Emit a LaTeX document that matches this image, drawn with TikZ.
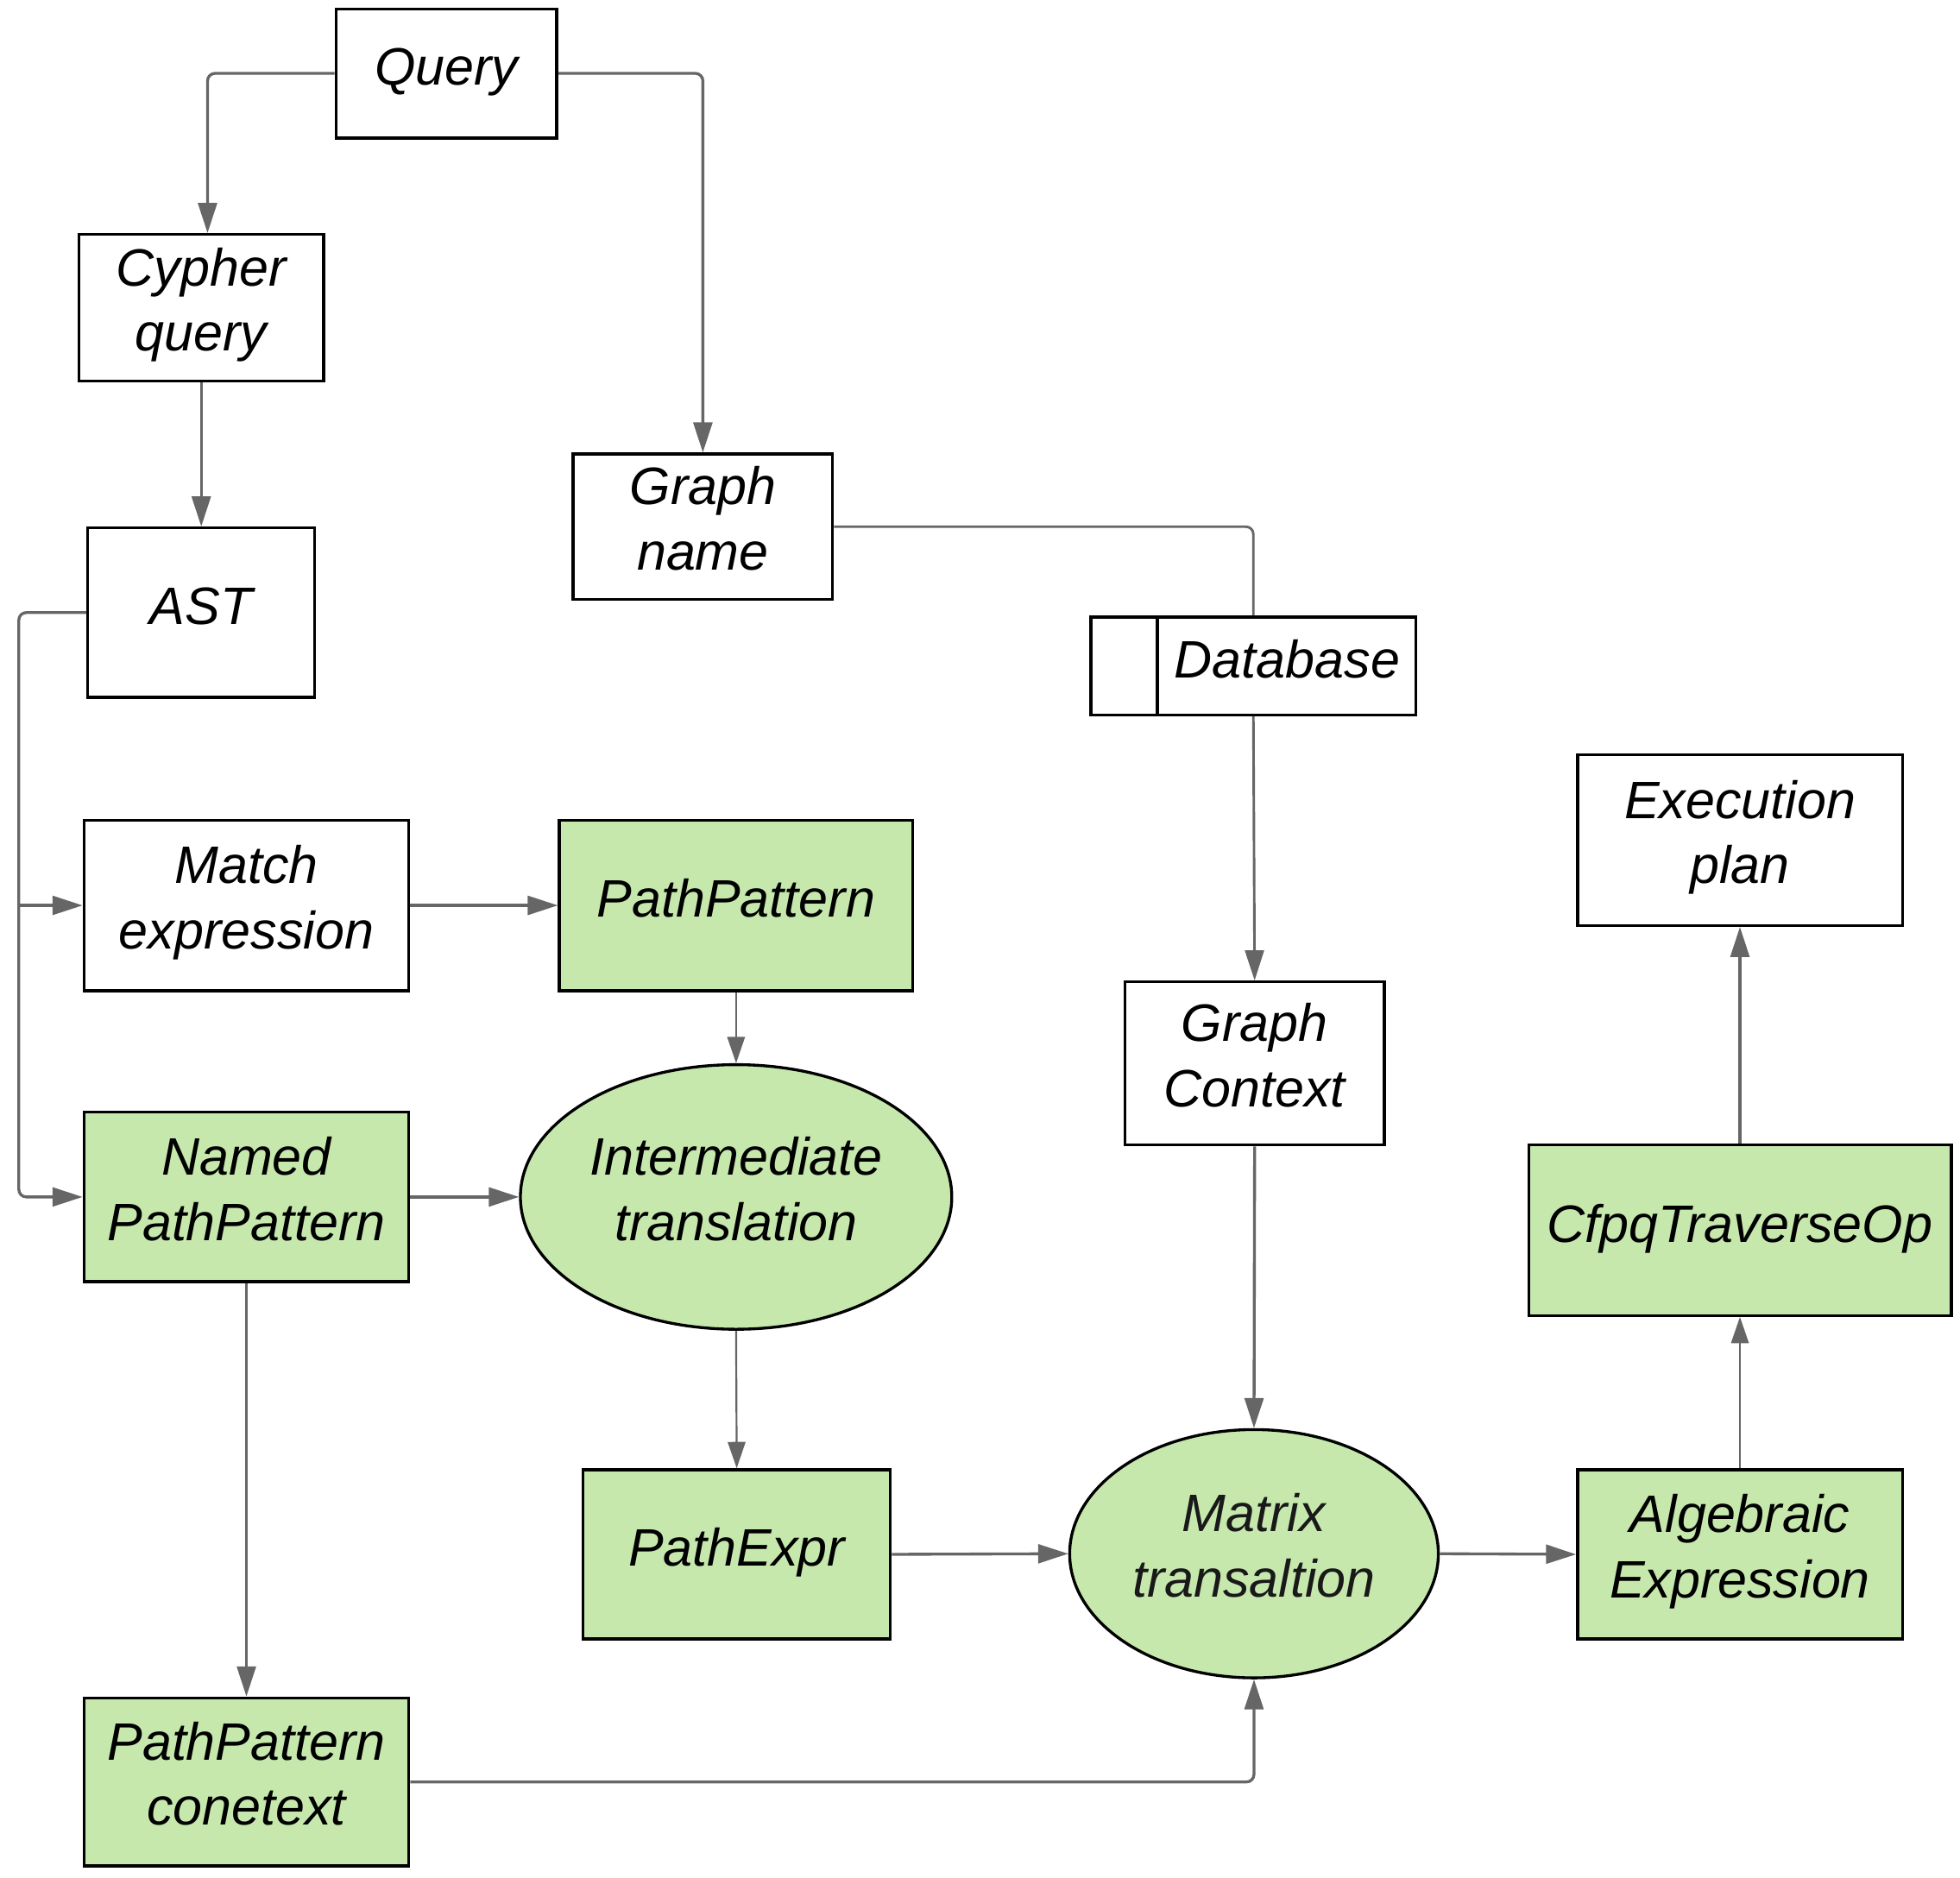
\documentclass[tikz,border=0pt]{standalone}
\usepackage{fontspec}
\setmainfont{Liberation Sans}
\usetikzlibrary{arrows.meta,shapes.geometric,calc}
\definecolor{pgreen}{RGB}{198,232,173}
\definecolor{lgray}{RGB}{102,102,102}
\begin{document}
\begin{tikzpicture}[x=1pt,y=-1pt,
  txt/.style={font=\itshape\fontsize{42}{52}\selectfont, align=center, text=black},
  one/.style={text height=31pt, text depth=12pt},
  two/.style={text height=83pt, text depth=14pt},
  box/.style={txt, draw=black, line width=2.3pt, rectangle, inner sep=0pt},
  gbox/.style={box, fill=pgreen},
  ell/.style={txt, draw=black, line width=2.3pt, ellipse, fill=pgreen, inner sep=0pt},
  conn/.style={draw=lgray, line width=2.3pt, rounded corners=6pt},
  thinconn/.style={draw=lgray, line width=1.5pt},
  arr/.style={-{Triangle[length=24pt,width=15pt]}},
  tarr/.style={-{Triangle[length=21pt,width=14pt]}}
]
\useasboundingbox[fill=white] (0,0) rectangle (1563,1497);

% nodes
\node[box, one, minimum width=176, minimum height=103] (query) at (356,58.5) {Query};
\node[box, two, minimum width=195, minimum height=117] (cypher) at (160.5,245.5) {Cypher\\query};
\node[box, one, minimum width=181, minimum height=135] (ast) at (160.5,488.5) {AST};
\node[box, two, minimum width=207, minimum height=116] (gname) at (560.5,420) {Graph\\name};
\node[box, minimum width=259, minimum height=78] (db) at (999.5,531) {};
\node[txt, one] (dbtext) at (1026.5,531) {Database};
\node[box, two, minimum width=259, minimum height=136] (me) at (196.5,722) {Match\\expression};
\node[gbox, one, minimum width=282, minimum height=136] (pp) at (587,722) {PathPattern};
\node[box, two, minimum width=207, minimum height=130] (gctx) at (1000.5,848) {Graph\\Context};
\node[box, two, minimum width=259, minimum height=136] (exec) at (1387.5,670) {Execution\\plan};
\node[gbox, two, minimum width=259, minimum height=135] (npp) at (196.5,954.5) {Named\\PathPattern};
\node[ell, two, minimum width=344, minimum height=211] (inter) at (587,954.5) {Intermediate\\translation};
\node[gbox, one, minimum width=337, minimum height=136] (cfpq) at (1387.5,981) {CfpqTraverseOp};
\node[gbox, one, minimum width=245, minimum height=135] (pexpr) at (587.5,1239.5) {PathExpr};
\node[ell, two, minimum width=294, minimum height=198, text=black!90] (mt) at (1000,1239) {Matrix\\transaltion};
\node[gbox, two, minimum width=259, minimum height=135] (alg) at (1387.5,1239.5) {Algebraic\\Expression};
\node[gbox, two, minimum width=259, minimum height=134] (ppc) at (196.5,1421) {PathPattern\\conetext};

% database divider
\draw[line width=2.3pt] ([xshift=54pt]db.north west) -- ([xshift=54pt]db.south west);

% connectors
\coordinate (trunk) at (15,0);
\draw[conn, arr] (query.west) -| ([xshift=5pt]cypher.north);
\draw[conn, arr] (query.east) -| (gname.north);
\draw[conn, arr] (cypher.south) -- (ast.north);
\draw[conn, arr] (ast.west) -| (trunk |- me.west) |- (npp.west);
\draw[conn, arr] (trunk |- me.west) -- (me.west);
\draw[conn, line width=2pt] (gname.east) -| (db.north);
\draw[conn, arr, line width=2pt] (db.south) -- (gctx.north);
\draw[conn, arr] (me.east) -- (pp.west);
\draw[thinconn, tarr] (pp.south) -- (inter.north);
\draw[conn, arr] (npp.east) -- (inter.west);
\draw[conn, arr] (npp.south) -- (ppc.north);
\draw[thinconn, tarr] (inter.south) -- (pexpr.north);
\draw[conn, arr] (gctx.south) -- (mt.north);
\draw[conn, arr] (pexpr.east) -- (mt.west);
\draw[conn, arr] (ppc.east) -| (mt.south);
\draw[conn, arr] (mt.east) -- (alg.west);
\draw[thinconn, tarr] (alg.north) -- (cfpq.south);
\draw[conn, arr] (cfpq.north) -- (exec.south);
\end{tikzpicture}
\end{document}
